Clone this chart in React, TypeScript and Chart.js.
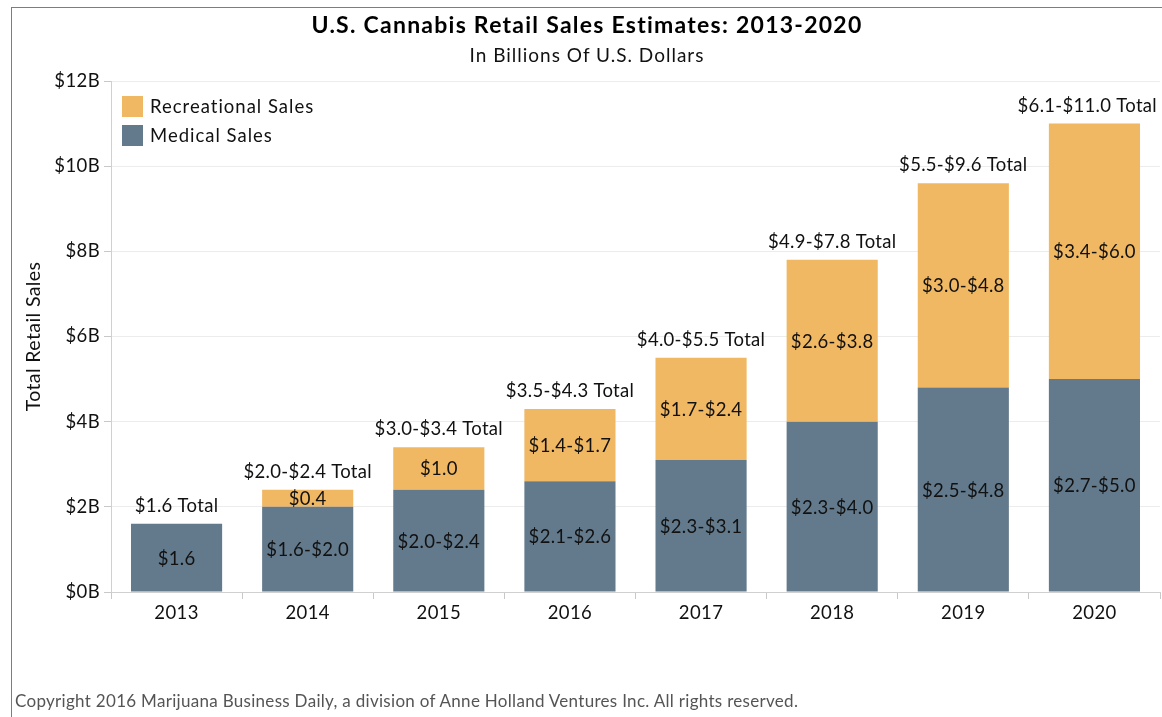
import React, { useEffect, useRef } from "react";
import { Chart, registerables } from "chart.js";

Chart.register(...registerables);

const categories = ["2013", "2014", "2015", "2016", "2017", "2018", "2019", "2020"];
const medicalValues = [1.6, 2.0, 2.4, 2.6, 3.1, 4.0, 4.8, 5.0];
const recreationalValues = [0, 0.4, 1.0, 1.7, 2.4, 3.8, 4.8, 6.0];
const medicalLabels = ["$1.6", "$1.6-$2.0", "$2.0-$2.4", "$2.1-$2.6", "$2.3-$3.1", "$2.3-$4.0", "$2.5-$4.8", "$2.7-$5.0"];
const recreationalLabels = ["", "$0.4", "$1.0", "$1.4-$1.7", "$1.7-$2.4", "$2.6-$3.8", "$3.0-$4.8", "$3.4-$6.0"];
const totalLabels = [
  "$1.6 Total",
  "$2.0-$2.4 Total",
  "$3.0-$3.4 Total",
  "$3.5-$4.3 Total",
  "$4.0-$5.5 Total",
  "$4.9-$7.8 Total",
  "$5.5-$9.6 Total",
  "$6.1-$11.0 Total",
];
const yTickValues = [0, 2, 4, 6, 8, 10, 12];

const FONT = "Lato, Carlito, Calibri, 'Open Sans', sans-serif";
const MED_COLOR = "#637a8c";
const REC_COLOR = "#f0b863";
const TEXT = "#111111";
const LABEL_SIZE = 18.5;

const spacingPlugin = {
  id: "spacing",
  beforeDraw(chart: any) {
    chart.ctx.letterSpacing = "0.4px";
  },
  afterDraw(chart: any) {
    chart.ctx.letterSpacing = "0px";
  },
};

const labelPlugin = {
  id: "barLabels",
  afterDatasetsDraw(chart: any) {
    const ctx = chart.ctx;
    ctx.save();
    ctx.font = `${LABEL_SIZE}px ${FONT}`;
    ctx.letterSpacing = "0.3px";
    ctx.fillStyle = TEXT;
    ctx.textAlign = "center";
    ctx.textBaseline = "middle";
    const medMeta = chart.getDatasetMeta(0);
    const recMeta = chart.getDatasetMeta(1);
    const rightLimit = chart.chartArea.right - 3;
    medMeta.data.forEach((bar: any, i: number) => {
      const t = medicalLabels[i];
      if (t) ctx.fillText(t, bar.x, (bar.y + bar.base) / 2 + 1);
    });
    recMeta.data.forEach((bar: any, i: number) => {
      const t = recreationalLabels[i];
      if (t) ctx.fillText(t, bar.x, (bar.y + bar.base) / 2 + 1);
      ctx.textBaseline = "alphabetic";
      const w = ctx.measureText(totalLabels[i]).width;
      const cx = Math.min(bar.x, rightLimit - w / 2);
      ctx.fillText(totalLabels[i], cx, bar.y - 12);
      ctx.textBaseline = "middle";
    });

    // legend inside plot
    const { left, top } = chart.chartArea;
    const items = [
      { color: REC_COLOR, text: "Recreational Sales" },
      { color: MED_COLOR, text: "Medical Sales" },
    ];
    ctx.textAlign = "left";
    ctx.letterSpacing = "1px";
    items.forEach((it, k) => {
      const y = top + 15 + k * 29;
      ctx.fillStyle = it.color;
      ctx.fillRect(left + 11, y, 21, 21);
      ctx.fillStyle = TEXT;
      ctx.fillText(it.text, left + 39, y + 11);
    });
    ctx.restore();
  },
};

export default function App() {
  const canvasRef = useRef<HTMLCanvasElement | null>(null);

  useEffect(() => {
    if (!canvasRef.current) return;
    Chart.defaults.font.family = FONT;
    const chart = new Chart(canvasRef.current, {
      type: "bar",
      data: {
        labels: categories,
        datasets: [
          {
            label: "Medical Sales",
            data: medicalValues,
            backgroundColor: MED_COLOR,
            barPercentage: 0.695,
            categoryPercentage: 1.0,
          },
          {
            label: "Recreational Sales",
            data: recreationalValues,
            backgroundColor: REC_COLOR,
            barPercentage: 0.695,
            categoryPercentage: 1.0,
          },
        ],
      },
      options: {
        animation: false,
        responsive: false,
        maintainAspectRatio: false,
        layout: { padding: { top: 81, left: 19, right: 2, bottom: 80 } },
        plugins: {
          legend: { display: false },
          tooltip: { enabled: false },
          title: { display: false },
        },
        scales: {
          x: {
            stacked: true,
            grid: {
              display: true,
              drawOnChartArea: false,
              drawTicks: true,
              tickLength: 7,
              tickColor: "#c8c8c8",
              offset: true,
            },
            border: { display: true, color: "#d0d0d0", width: 1 },
            ticks: { color: TEXT, font: { size: LABEL_SIZE, family: FONT }, padding: 3 },
            afterFit: (scale: any) => {
              scale.height = 717 - 592 - 80;
            },
          },
          y: {
            stacked: true,
            min: 0,
            max: 12,
            afterBuildTicks: (scale: any) => {
              scale.ticks = yTickValues.map((v) => ({ value: v }));
            },
            grid: {
              color: "#ececec",
              drawTicks: true,
              tickLength: 7,
              tickColor: "#c8c8c8",
            },
            border: { display: true, color: "#d0d0d0", width: 1 },
            ticks: {
              color: TEXT,
              font: { size: LABEL_SIZE, family: FONT },
              padding: 4,
              callback: (v: any) => `$${v}B`,
            },
            title: {
              display: true,
              text: "Total Retail Sales",
              color: TEXT,
              font: { size: 19.5, family: FONT },
              padding: { top: 3, bottom: 4 },
            },
            afterFit: (scale: any) => {
              scale.width = 111 - 19;
            },
          },
        },
      },
      plugins: [spacingPlugin, labelPlugin],
    });
    return () => chart.destroy();
  }, []);

  return (
    <div
      style={{
        position: "fixed",
        left: 0,
        top: 0,
        width: 1162,
        height: 717,
        background: "#ffffff",
        overflow: "hidden",
        fontFamily: FONT,
      }}
    >
      <div
        style={{
          position: "absolute",
          left: 11,
          top: 7,
          width: 1200,
          height: 800,
          borderTop: "1.5px solid #6a8196",
          borderLeft: "1.5px solid #6a8196",
        }}
      />
      <canvas
        ref={canvasRef}
        width={1162}
        height={717}
        style={{ position: "absolute", left: 0, top: 0, width: 1162, height: 717 }}
      />
      <div
        style={{
          position: "absolute",
          left: 12,
          width: 1150,
          top: 9,
          textAlign: "center",
          fontWeight: 700,
          fontSize: 23,
          letterSpacing: "1.25px",
          color: "#000",
          lineHeight: "30px",
        }}
      >
        U.S. Cannabis Retail Sales Estimates: 2013-2020
      </div>
      <div
        style={{
          position: "absolute",
          left: 12,
          width: 1150,
          top: 43,
          textAlign: "center",
          fontSize: 19,
          letterSpacing: "1px",
          color: "#111",
          lineHeight: "24px",
        }}
      >
        In Billions Of U.S. Dollars
      </div>
      <div
        style={{
          position: "absolute",
          left: 15,
          top: 690,
          fontSize: 17,
          letterSpacing: "0.3px",
          color: "#555",
          lineHeight: "22px",
          whiteSpace: "nowrap",
        }}
      >
        Copyright 2016 Marijuana Business Daily, a division of Anne Holland Ventures Inc. All rights reserved.
      </div>
    </div>
  );
}
